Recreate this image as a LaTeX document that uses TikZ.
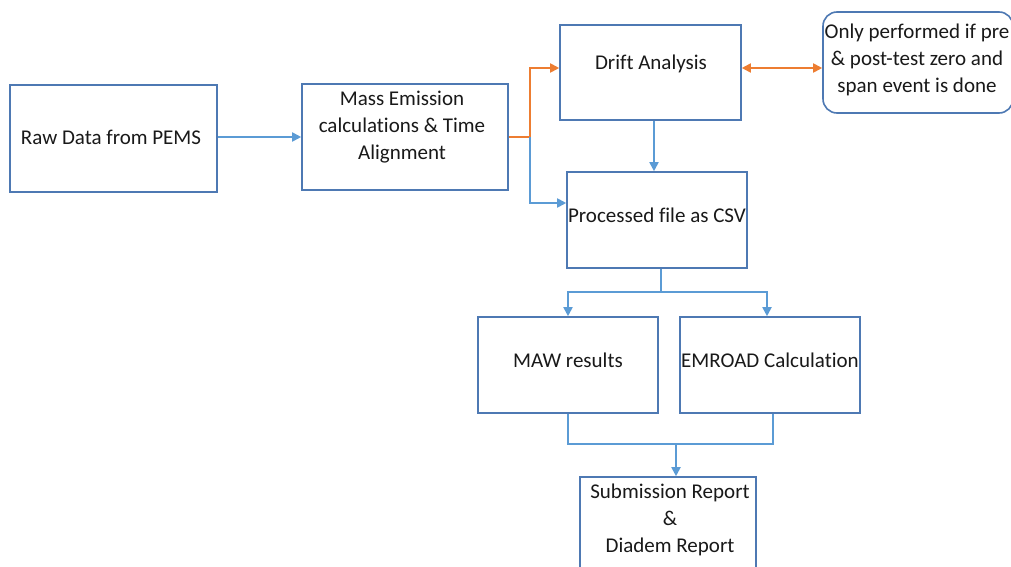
\documentclass[tikz,border=0pt]{standalone}
\usepackage{fontspec}
\setmainfont[Ligatures=NoCommon]{Carlito}
\usetikzlibrary{arrows.meta}
\definecolor{boxline}{HTML}{4E79B3}
\definecolor{flowblue}{HTML}{5B9BD5}
\definecolor{floworange}{HTML}{ED7D31}
\begin{document}
\begin{tikzpicture}[x=1pt,y=-1pt,
  stepbox/.style={draw=boxline,line width=1.6pt,fill=white,inner sep=0pt},
  notebox/.style={stepbox,rounded corners=14pt},
  txt/.style={font=\fontsize{21}{27}\selectfont,align=center,text=black!90},
  flow/.style={draw=flowblue,line width=1.8pt,-{Triangle[length=9pt,width=9pt]}},
  link/.style={draw=flowblue,line width=1.8pt},
  oflow/.style={draw=floworange,line width=1.8pt,-{Triangle[length=9pt,width=9pt]}},
  olink/.style={draw=floworange,line width=1.8pt},
  obi/.style={draw=floworange,line width=1.8pt,{Triangle[length=9pt,width=9pt]}-{Triangle[length=9pt,width=9pt]}}
]
\useasboundingbox (0,0) rectangle (1011,567);
\begin{scope}
\clip (0,0) rectangle (1011,567);

% boxes
\node[stepbox,minimum width=207pt,minimum height=107pt] (raw) at (113.5,138.5) {};
\node[txt] at (111,137) {Raw Data from PEMS};

\node[stepbox,minimum width=206pt,minimum height=106pt] (mass) at (405,137) {};
\node[txt] at (402,127) {Mass Emission\\calculations \& Time\\Alignment};

\node[stepbox,minimum width=181pt,minimum height=95pt] (drift) at (650.5,72.5) {};
\node[txt] at (651,64) {Drift Analysis};

\node[notebox,minimum width=190pt,minimum height=101pt] (note) at (918,62.5) {};
\node[txt] at (917,60) {Only performed if pre\\\& post-test zero and\\span event is done};

\node[stepbox,minimum width=180pt,minimum height=96pt] (proc) at (657,220) {};
\node[txt] at (657,215) {Processed file as CSV};

\node[stepbox,minimum width=180pt,minimum height=96pt] (maw) at (568,365) {};
\node[txt] at (568,360) {MAW results};

\node[stepbox,minimum width=180pt,minimum height=96pt] (emroad) at (770,365) {};
\node[txt] at (770,360) {EMROAD Calculation};

\node[stepbox,minimum width=176pt,minimum height=112pt] (sub) at (668,533) {};
\node[txt] at (670,519.5) {Submission Report\\\&\\Diadem Report};

% junction points
\coordinate (split) at (530,137);
\coordinate (fork) at (661,292);
\coordinate (join) at (676,444);

% connectors
\draw[flow] (raw.east |- 0,137) -- (mass.west |- 0,137);
\draw[olink] (mass.east |- split) -- (split);
\draw[oflow] (split) |- (drift.west |- 0,68);
\draw[flow] (split) |- (proc.west |- 0,203);
\draw[flow] (drift.south -| 654,0) -- (proc.north -| 654,0);
\draw[obi] (drift.east |- 0,68) -- (note.west |- 0,68);

\draw[link] (proc.south -| fork) -- (fork);
\draw[flow] (fork) -| (maw.north);
\draw[flow] (fork) -| (emroad.north -| 767,0);

\draw[link] (maw.south) |- (join);
\draw[link] (emroad.south -| 773,0) |- (join);
\draw[flow] (join) -- (sub.north -| join);
\end{scope}
\end{tikzpicture}
\end{document}
